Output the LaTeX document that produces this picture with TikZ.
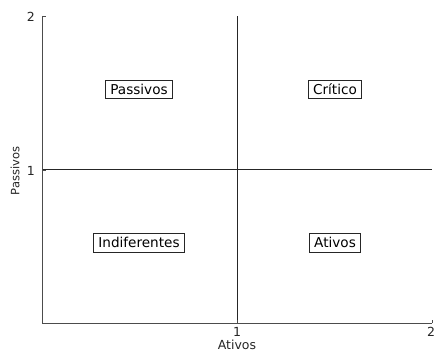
\documentclass[tikz,border=0pt]{standalone}
\usepackage{fontspec}
\setmainfont{DejaVu Sans}
\begin{document}
\begin{tikzpicture}[x=1pt,y=-1pt,
  spine/.style={draw=black!70,line width=0.9pt},
  divider/.style={draw=black!85,line width=1pt},
  quad/.style={draw=black!85,line width=0.9pt,fill=white,
    font=\fontsize{13.6}{15}\selectfont,
    inner xsep=5pt,inner ysep=4pt,text height=9.8pt,text depth=0.4pt},
  ticklab/.style={font=\fontsize{12.5}{14}\selectfont,text=black!85,inner sep=0pt},
  axlab/.style={font=\fontsize{12.5}{14}\selectfont,text=black!85,inner sep=0pt}]
\useasboundingbox (0,0) rectangle (435,352);
% axis frame: origin, ends and midpoints
\coordinate (o) at (42,323);
\coordinate (ytop) at (42,16);
\coordinate (xend) at (432,323);
\coordinate (ymid) at (42,170);
\coordinate (xmid) at (237,323);
\coordinate (vtop) at (237,16);
\coordinate (hend) at (432,170);
% quadrant dividers
\draw[divider] (xmid) -- (vtop);
\draw[divider] (ymid) -- (hend);
% spines
\draw[spine] (ytop) -- (o) -- (xend);
% inward ticks
\draw[spine] (ytop) -- ++(3.5,0);
\draw[spine] (ymid) -- ++(3.5,0);
\draw[spine] (xmid) -- ++(0,-3.5);
\draw[spine] (xend) -- ++(0,-3.5);
% tick labels
\node[ticklab,anchor=east] (y2) at (35,17) {2};
\node[ticklab,anchor=east] (y1) at (35,171) {1};
\node[ticklab,anchor=north] (x1) at (237,327) {1};
\node[ticklab,anchor=north] (x2) at (431,327) {2};
% axis titles
\node[axlab] (xlab) at (237,344.5) {Ativos};
\node[axlab,font=\fontsize{11.5}{13}\selectfont,rotate=90] (ylab) at (15,171) {Passivos};
% quadrant labels
\node[quad] (passivos) at (139,89.5) {Passivos};
\node[quad] (critico) at (335,89.5) {Crítico};
\node[quad] (indif) at (139,243) {Indiferentes};
\node[quad] (ativos) at (335,243) {Ativos};
\end{tikzpicture}
\end{document}
